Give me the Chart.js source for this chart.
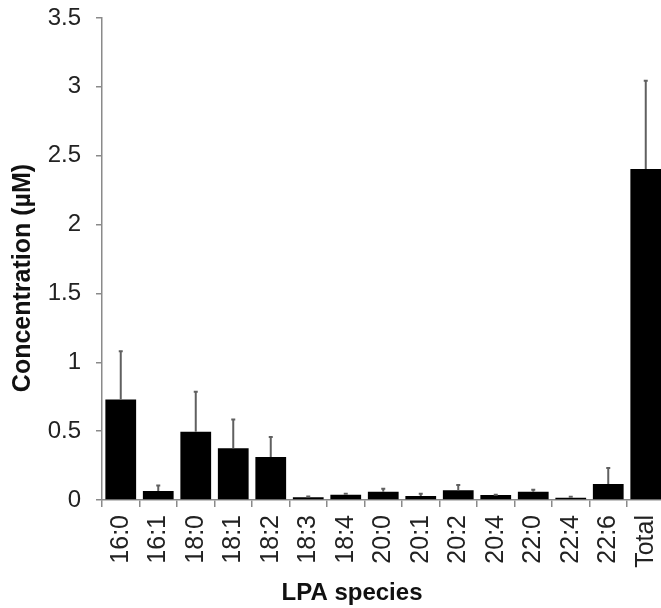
<!DOCTYPE html>
<html>
<head>
<meta charset="utf-8">
<script src="https://cdn.jsdelivr.net/npm/chart.js@4.4.0/dist/chart.umd.min.js"></script>
<style>
  html, body { margin: 0; padding: 0; background: #fff; overflow: hidden; }
  #wrap { width: 666px; height: 608px; }
</style>
</head>
<body>
<div id="wrap"><canvas id="chart" width="666" height="608"></canvas></div>
<script>
// LPA species concentrations (mean and SD, µM)
const categories = ['16:0', '16:1', '18:0', '18:1', '18:2', '18:3', '18:4', '20:0', '20:1', '20:2', '20:4', '22:0', '22:4', '22:6', 'Total'];
const meanValues = [0.73, 0.065, 0.496, 0.375, 0.312, 0.02, 0.039, 0.059, 0.029, 0.07, 0.036, 0.06, 0.017, 0.116, 2.404];
const sdValues = [0.35, 0.04, 0.29, 0.21, 0.145, 0.006, 0.007, 0.023, 0.017, 0.039, 0.003, 0.015, 0.007, 0.116, 0.64];
const yTicks = [0, 0.5, 1, 1.5, 2, 2.5, 3, 3.5];

const axisGray = '#8a8a8a';
const textColor = '#222';
const fontFamily = "'Liberation Sans', Arial, sans-serif";

// draw the upper error bars on top of the bars
const errorBars = {
  id: 'errorBars',
  afterDatasetsDraw(chart) {
    const ctx = chart.ctx;
    const meta = chart.getDatasetMeta(0);
    const y = chart.scales.y;
    ctx.save();
    ctx.strokeStyle = '#606060';
    ctx.lineWidth = 2;
    meta.data.forEach((bar, i) => {
      const top = y.getPixelForValue(meanValues[i] + sdValues[i]);
      const base = y.getPixelForValue(meanValues[i]);
      ctx.beginPath();
      ctx.moveTo(bar.x, base);
      ctx.lineTo(bar.x, top);
      ctx.moveTo(bar.x - 2, top);
      ctx.lineTo(bar.x + 2, top);
      ctx.stroke();
    });
    ctx.restore();
  }
};

// axis titles (placed like the original figure)
const axisTitles = {
  id: 'axisTitles',
  afterDraw(chart) {
    const ctx = chart.ctx;
    ctx.save();
    ctx.fillStyle = '#111';
    ctx.textAlign = 'center';
    ctx.textBaseline = 'alphabetic';
    ctx.font = 'bold 24px ' + fontFamily;
    ctx.fillText('LPA species', 352, 600);
    ctx.font = 'bold 25px ' + fontFamily;
    ctx.translate(30, 278);
    ctx.rotate(-Math.PI / 2);
    ctx.fillText('Concentration (\u00B5M)', 0, 0);
    ctx.restore();
  }
};

new Chart(document.getElementById('chart').getContext('2d'), {
  type: 'bar',
  data: {
    labels: categories,
    datasets: [{
      data: meanValues,
      backgroundColor: '#000',
      borderWidth: 0,
      categoryPercentage: 1,
      barPercentage: 0.82
    }]
  },
  options: {
    responsive: false,
    animation: false,
    layout: { padding: { top: 18, right: 1.5, left: 0, bottom: 0 } },
    plugins: {
      legend: { display: false },
      tooltip: { enabled: false }
    },
    scales: {
      x: {
        grid: {
          offset: true,
          drawOnChartArea: false,
          drawTicks: true,
          tickLength: 7,
          color: axisGray,
          lineWidth: 1.5
        },
        border: { display: true, color: axisGray, width: 1.5 },
        ticks: {
          maxRotation: 90,
          minRotation: 90,
          autoSkip: false,
          padding: 8,
          color: textColor,
          font: { family: fontFamily, size: 25 }
        },
        afterFit(scale) {
          scale.height = 108;
          scale.paddingLeft = 0;
          scale.paddingRight = 0;
        }
      },
      y: {
        min: 0,
        max: 3.5,
        afterBuildTicks(scale) { scale.ticks = yTicks.map(v => ({ value: v })); },
        grid: {
          drawOnChartArea: false,
          drawTicks: true,
          tickLength: 6,
          color: axisGray,
          lineWidth: 1.5
        },
        border: { display: true, color: axisGray, width: 1.5 },
        ticks: {
          padding: 15,
          color: textColor,
          font: { family: fontFamily, size: 24 },
          callback: v => String(v)
        },
        afterFit(scale) {
          scale.width = 102;
          scale.paddingTop = 0;
          scale.paddingBottom = 0;
        }
      }
    }
  },
  plugins: [errorBars, axisTitles]
});
</script>
</body>
</html>
